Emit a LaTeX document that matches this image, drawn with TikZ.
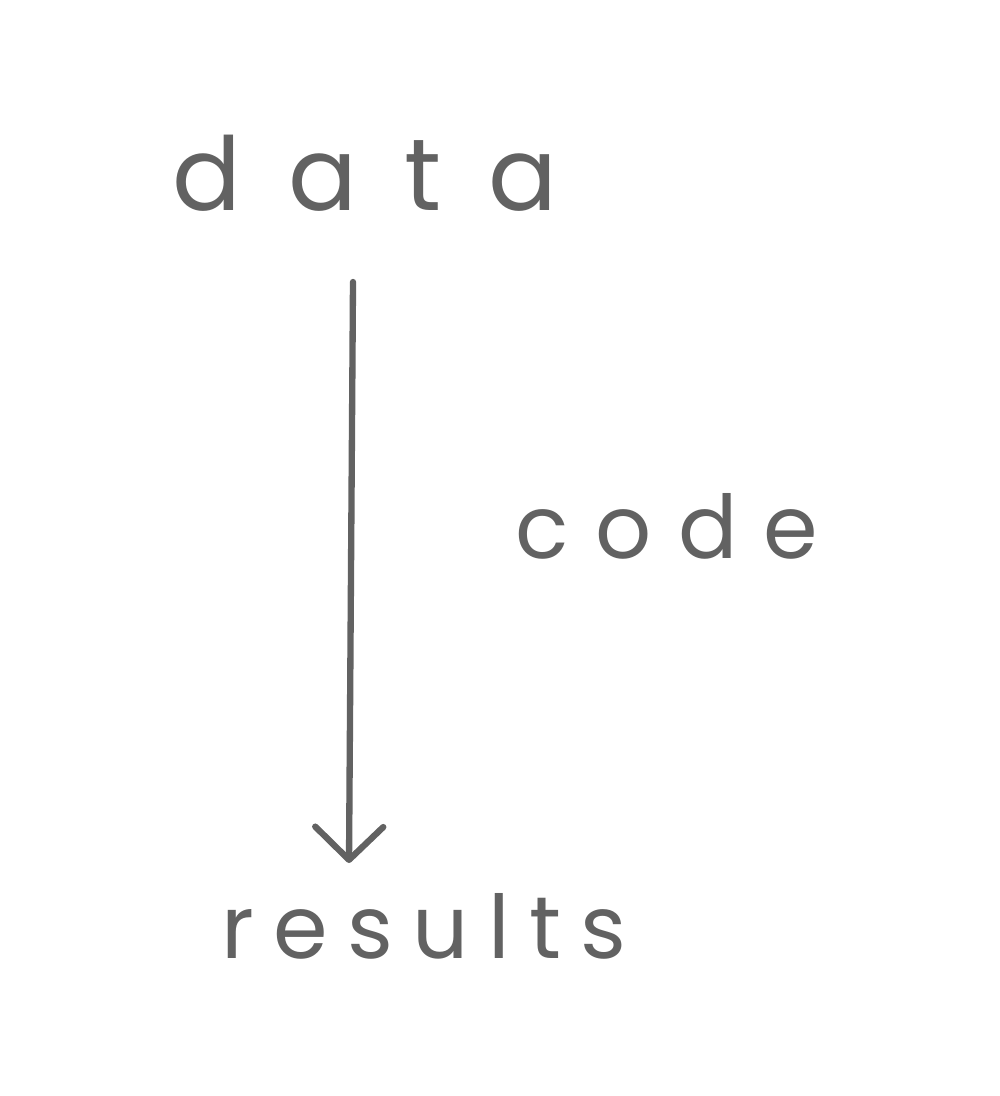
\documentclass[tikz,border=0pt]{standalone}
\usepackage{fontspec}
\usepackage{tikz}
\usetikzlibrary{arrows.meta,positioning}
\usepackage{xcolor}
\definecolor{inkgray}{RGB}{98,98,98}
\newfontfamily\handwide[LetterSpace=46]{Poppins}
\newfontfamily\handfont[LetterSpace=30]{Poppins}
\newfontfamily\handtight[LetterSpace=22]{Poppins}

\begin{document}
\begin{tikzpicture}[
    hand/.style={inner sep=0pt, anchor=base, text=inkgray},
    arrow/.style={-{Straight Barb[length=3.3mm,width=6.8mm,line cap=round,line join=round]}, draw=inkgray, line width=1.8pt, line cap=round}
]
    \useasboundingbox (0,0) rectangle (10,-10.96);
    \node[hand, font=\handwide\fontsize{29}{33}\selectfont] (data) at (3.65,-2.10) {data};
    \node[hand, font=\handfont\fontsize{25}{30}\selectfont] (code) at (6.67,-5.58) {code};
    \node[hand, font=\handtight\fontsize{25}{30}\selectfont] (results) at (4.24,-9.58) {results};

    \draw[arrow] ([xshift=-0.12cm,yshift=-0.72cm]data.base) -- ([xshift=-0.75cm,yshift=0.95cm]results.base);
\end{tikzpicture}
\end{document}
